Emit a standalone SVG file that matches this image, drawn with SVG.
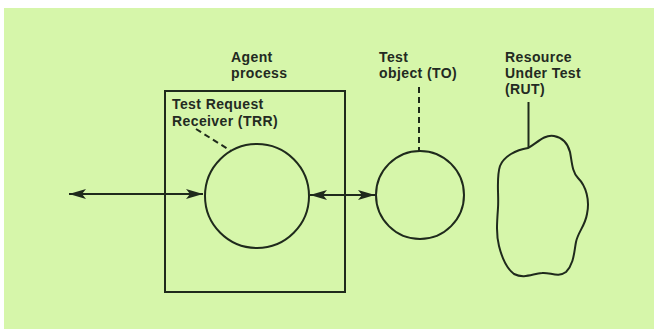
<svg xmlns="http://www.w3.org/2000/svg" width="654" height="329" viewBox="0 0 654 329">
<style>
.bg{fill:#d6f6aa}
.ln{fill:none;stroke:#1f2a1c;stroke-width:2}
.dash{fill:none;stroke:#1f2a1c;stroke-width:2;stroke-dasharray:6 4}
.lbl{font-family:"Liberation Sans",Arial,sans-serif;font-weight:bold;font-size:14px;letter-spacing:0.4px;fill:#232a22}
</style>
<defs>
<marker id="ah" viewBox="-18 -6 20 12" refX="0" refY="0" markerWidth="20" markerHeight="12" markerUnits="userSpaceOnUse" orient="auto-start-reverse">
<path d="M0,0 L-17,-5 L-13,0 L-17,5 Z" fill="#1f2a1c"/>
</marker>
</defs>
<rect x="0" y="0" width="654" height="329" fill="#ffffff"/>
<rect class="bg" x="4" y="8" width="650" height="321"/>
<g id="agent-process">
<rect class="ln" x="165" y="91" width="180" height="201"/>
<text class="lbl" x="231" y="62">Agent</text>
<text class="lbl" x="231" y="78">process</text>
</g>
<g id="trr">
<circle class="ln" cx="257" cy="196" r="52"/>
<text class="lbl" x="172" y="109">Test Request</text>
<text class="lbl" x="172" y="126">Receiver (TRR)</text>
</g>
<g id="to">
<circle class="ln" cx="420" cy="195" r="44"/>
<text class="lbl" x="379" y="62">Test</text>
<text class="lbl" x="379" y="78">object (TO)</text>
</g>
<g id="rut">
<path class="ln" d="M528,148 C536,144 544,134 554,136 C564,138 568,144 570,152 C572,162 572,172 578,178 C586,186 590,200 587,214 C585,226 578,232 576,242 C574,252 574,264 566,272 C558,278 550,272 542,273 C532,274 524,279 514,274 C506,268 502,258 499,246 C496,234 497,222 498,208 C499,194 496,178 500,166 C504,156 516,150 528,148 Z"/>
<text class="lbl" x="505" y="62">Resource</text>
<text class="lbl" x="505" y="78">Under Test</text>
<text class="lbl" x="505" y="94">(RUT)</text>
</g>
<g id="connectors">
<line class="ln" x1="69" y1="194" x2="203" y2="194" marker-start="url(#ah)" marker-end="url(#ah)"/>
<line class="ln" x1="310" y1="195" x2="375" y2="195" marker-start="url(#ah)" marker-end="url(#ah)"/>
<line class="dash" x1="196" y1="129" x2="231" y2="151"/>
<line class="dash" x1="419" y1="87" x2="419" y2="151"/>
<line class="ln" x1="528.5" y1="102" x2="528.5" y2="148"/>
</g>
</svg>
